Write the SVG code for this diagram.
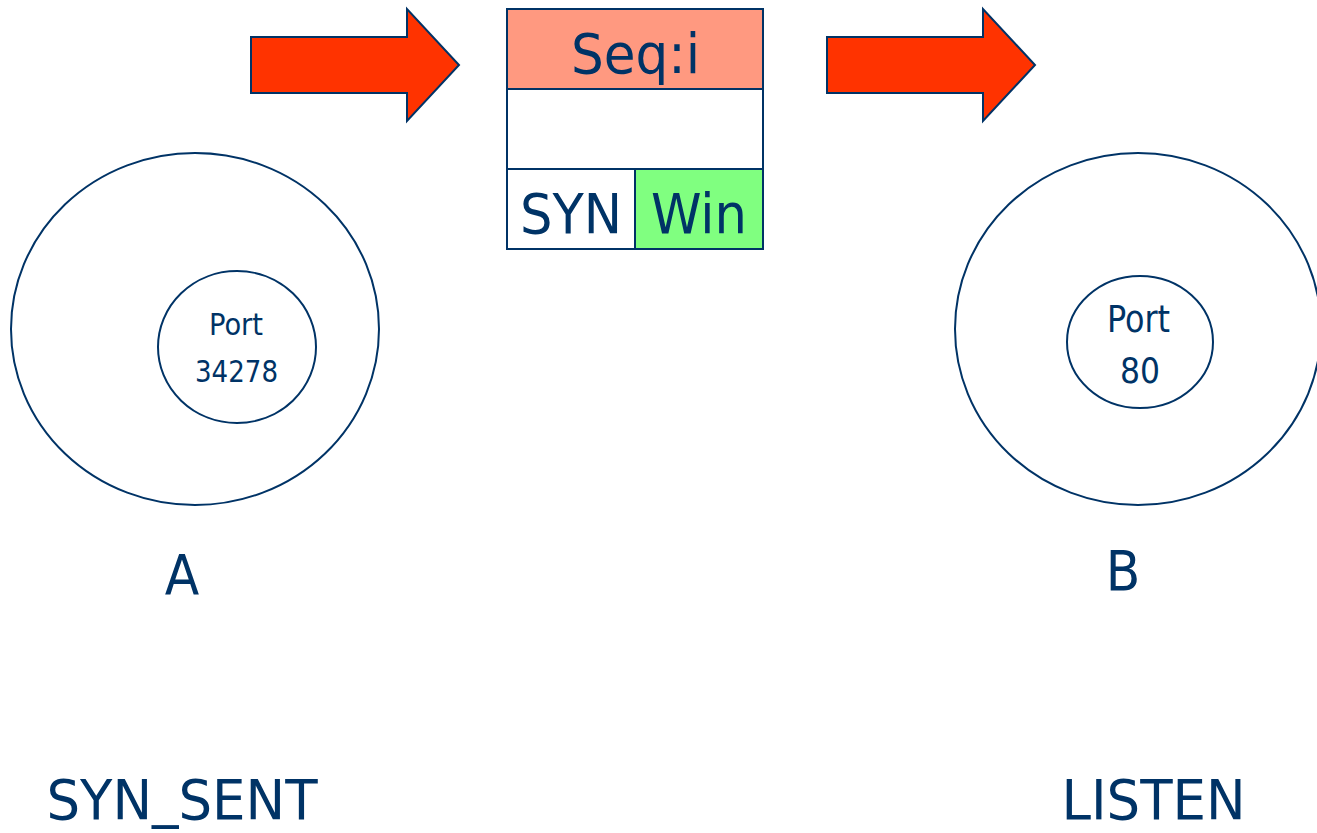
<svg xmlns="http://www.w3.org/2000/svg" width="1317" height="833" viewBox="0 0 1317 833">
<style>
.ln{stroke:#003366;stroke-width:2;}
.arrow{fill:#FF3300;stroke:#003366;stroke-width:2;}
.circ{fill:none;stroke:#003366;stroke-width:2;}
text{font-family:"DejaVu Sans Condensed","DejaVu Sans",sans-serif;fill:#003366;text-anchor:middle;}
.big{font-size:56px;}
</style>
<rect width="1317" height="833" fill="#ffffff"/>
<g id="connectors">
<polygon class="arrow" points="251,37 407,37 407,9 459,65 407,121 407,93 251,93"/>
<polygon class="arrow" points="827,37 983,37 983,9 1035,65 983,121 983,93 827,93"/>
</g>
<g id="packet">
<rect class="ln" x="507" y="9" width="256" height="80" fill="#FF9980"/>
<rect class="ln" x="507" y="89" width="256" height="80" fill="#ffffff"/>
<rect class="ln" x="507" y="169" width="128" height="80" fill="#ffffff"/>
<rect class="ln" x="635" y="169" width="128" height="80" fill="#80FF80"/>
<text class="big" x="635.5" y="73" textLength="129" lengthAdjust="spacingAndGlyphs">Seq:i</text>
<text class="big" x="571" y="233" textLength="102" lengthAdjust="spacingAndGlyphs">SYN</text>
<text class="big" x="699" y="233" textLength="96" lengthAdjust="spacingAndGlyphs">Win</text>
</g>
<g id="hostA">
<ellipse class="circ" cx="195" cy="329" rx="184" ry="176"/>
<ellipse class="circ" cx="237" cy="347" rx="79" ry="76"/>
<text x="236" y="335" font-size="30" textLength="54" lengthAdjust="spacingAndGlyphs">Port</text>
<text x="236.5" y="382" font-size="31" textLength="83" lengthAdjust="spacingAndGlyphs">34278</text>
<text class="big" x="182" y="594">A</text>
<text class="big" x="182" y="819" textLength="271" lengthAdjust="spacingAndGlyphs">SYN<tspan dy="-3">_</tspan><tspan dy="3">SENT</tspan></text>
</g>
<g id="hostB">
<ellipse class="circ" cx="1138" cy="329" rx="183" ry="176"/>
<ellipse class="circ" cx="1140" cy="342" rx="73" ry="66"/>
<text x="1138.5" y="332" font-size="37" textLength="63" lengthAdjust="spacingAndGlyphs">Port</text>
<text x="1140" y="383" font-size="36" textLength="40" lengthAdjust="spacingAndGlyphs">80</text>
<text class="big" x="1123" y="590">B</text>
<text class="big" x="1153.5" y="819" textLength="184" lengthAdjust="spacingAndGlyphs">LISTEN</text>
</g>
</svg>
